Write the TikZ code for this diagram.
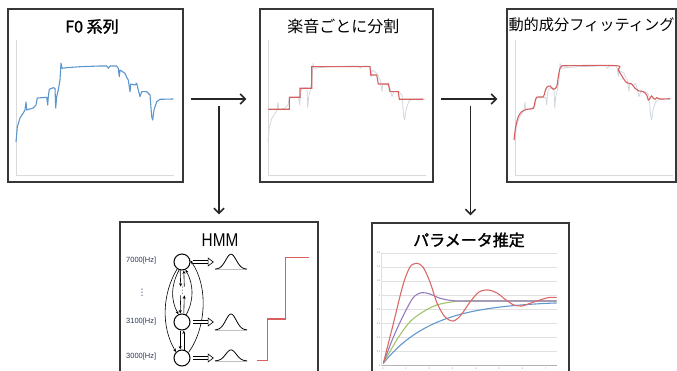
\documentclass[tikz,border=0pt]{standalone}
\usepackage{fontspec}
\usepackage{graphicx}
\usepackage{tikz}
\usetikzlibrary{arrows.meta,calc}
\setmainfont{Liberation Sans}
\newfontfamily\jpfont[AutoFakeBold=1.6]{Noto Sans CJK JP}
\newfontfamily\symfont{DejaVu Sans}
\definecolor{boxgray}{RGB}{55,55,55}
\definecolor{fzblue}{RGB}{91,150,205}
\definecolor{fzgray}{RGB}{208,215,224}
\definecolor{fitred}{RGB}{214,96,96}
\definecolor{axgray}{RGB}{218,218,218}
\definecolor{hzblue}{RGB}{45,55,85}
\definecolor{cred}{RGB}{218,105,105}
\definecolor{cpurple}{RGB}{150,122,190}
\definecolor{cgreen}{RGB}{162,196,104}
\definecolor{cblue}{RGB}{96,152,206}

\begin{document}
\begin{tikzpicture}[x=1pt, y=-1pt,
    panel/.style={draw=boxgray, line width=1.4pt, inner sep=0pt},
    title/.style={font=\jpfont\fontsize{16}{18}\selectfont, inner sep=0pt},
    titleb/.style={font=\jpfont\bfseries\fontsize{16}{18}\selectfont, inner sep=0pt},
    arr/.style={-{Straight Barb[length=5pt,width=10pt]}, line width=1.5pt, black!85},
    state/.style={circle, draw, line width=1pt, minimum size=16pt, inner sep=0pt},
    trans/.style={-{Stealth[length=3.5pt,width=3pt]}, line width=0.6pt},
    hollow/.style={double, double distance=2.2pt, line width=0.6pt,
                   -{Triangle[open,length=6pt,width=9pt]}, shorten <=2.5pt, shorten >=1pt},
    hz/.style={font=\fontsize{7.5}{8}\selectfont, text=hzblue, inner sep=0pt},
    dots/.style={font=\symfont\fontsize{9}{9}\selectfont, inner sep=0.5pt},
    gauss/.style={minimum width=32pt, minimum height=#1, inner sep=0pt},
    axis/.style={axgray, line width=0.8pt},
    grid/.style={black!12, line width=0.5pt},
    tick/.style={font=\fontsize{2.5}{3}\selectfont, text=black!45, inner sep=0.5pt}
]
\useasboundingbox (0,0) rectangle (677,371);
\clip (0,0) rectangle (677,371);

% panels
\node[panel, minimum width=175pt, minimum height=173pt] (f0) at (95.5,95.5) {};
\node[panel, minimum width=173pt, minimum height=173pt] (seg) at (346.5,95.5) {};
\node[panel, minimum width=169pt, minimum height=173pt] (fit) at (591.5,95.5) {};
\node[panel, minimum width=198pt, minimum height=178pt] (hmm) at (219,311) {};
\node[panel, minimum width=197pt, minimum height=177pt] (prm) at (470.5,311.5) {};

\node[titleb] (tf0) at (92,26.5) {F0 系列};
\node[title] (tseg) at (343.3,26.7) {楽音ごとに分割};
\node[title, font=\jpfont\fontsize{15.2}{17}\selectfont] (tfit) at (591.5,25) {動的成分フィッティング};
\node[font=\fontsize{18.5}{20}\selectfont, inner sep=0pt] (thmm) at (220,240) {\scalebox{0.83}[1]{HMM}};
\node[titleb] (tprm) at (469,240) {パラメータ推定};

% flow
\coordinate (j1) at (219,106);
\coordinate (j2) at (470.5,106);
\draw[arr, shorten <=7pt, shorten >=13pt] ([yshift=-3.5pt]f0.east) -- ([yshift=-3.5pt]seg.west);
\draw[arr, shorten <=7pt, shorten >=9pt] ([yshift=-3.5pt]seg.east) -- ([yshift=-3.5pt]fit.west);
\draw[arr, shorten >=7pt] (j1) -- (j1 |- hmm.north);
\draw[arr, shorten >=7pt] (j2) -- (j2 |- prm.north);

% F0 contour in the three upper panels
\foreach \dx/\c/\w in {0/fzblue/1.1pt, 252/fzgray/0.8pt, 499/fzgray/0.8pt}{
  \draw[axis, shift={(\dx,0)}] (16,40) -- (16,175) -- (174,175);
  \draw[\c, line width=\w, line join=round, shift={(\dx,0)}]
    (16,142) -- (17.3,127) -- (20,118) -- (23.3,113) -- (25,110) -- (26,102) -- (26.7,110)
    -- (33.3,108) -- (36,105) -- (37.3,98) -- (41.7,97.7) -- (46.7,97.3) -- (47.7,105)
    -- (48.3,96.7) -- (49.3,89.3) -- (53.3,87.7) -- (55,88.3) -- (55.7,108) -- (56.7,96.7)
    -- (58.3,90) -- (60,80) -- (61,63.3) -- (62,68.3) -- (66.7,67.7) -- (80,66.7)
    -- (100,66) -- (106.7,66) -- (108.3,68.3) -- (110,66) -- (116.7,66) -- (118.3,68.3)
    -- (119.3,76.7) -- (120,70) -- (125,73.3) -- (126.7,77.3) -- (128.3,80) -- (130,91.7)
    -- (130.7,84) -- (135,85) -- (136.7,83.3) -- (138.3,90) -- (140,96.7) -- (141.7,91.7)
    -- (146.7,91.7) -- (150,95) -- (151.7,116.7) -- (152.7,120) -- (154,110)
    -- (156.7,101.7) -- (160,99.3) -- (173.3,99);
}
\draw[fitred, line width=1.1pt, shift={(252,0)}]
  (16.3,109.3) -- (37.3,109.3) -- (37.3,97.3) -- (48,97.3) -- (48,88.3) -- (59.7,88.3)
  -- (59.7,66.7) -- (118,66.7) -- (118.7,75) -- (124.7,75) -- (126.3,84) -- (136.3,84)
  -- (138,91.7) -- (146.3,91.7) -- (147.3,99.3) -- (171.3,99.3);
\draw[fitred, line width=1.1pt, shift={(499,0)}] plot[smooth, tension=0.5] coordinates {
  (15,140) (16.7,126.7) (19.3,116.7) (22.7,111.7) (27.7,109.3) (34.3,108.3) (36,101.7)
  (37.7,97.3) (44.3,96.7) (46,91.7) (47.7,87.3) (51,86) (54.3,89.3) (57.7,86.7)
  (59.3,76.7) (61,68.3) (62.7,66) (69.3,65.7) (117.7,65.7) (119.3,70) (124.3,78.3)
  (127.7,82.7) (132.7,84) (136,88.3) (139.3,90.7) (144.3,91.7) (147.7,95) (149.3,100)
  (151,98.3) (152.7,96) (154.3,98.3) (156,99.3) (157.7,97.7) (161,99) (171,98.7)};

% HMM
\node[state] (s1) at (182,262) {};
\node[state] (s2) at (182,322) {};
\node[state] (s3) at (182,358) {};
\node[dots, text=black!55] (vd) at (182.5,291) {⋮};
\node[hz, anchor=west] (l1) at (126,261) {7000[Hz]};
\node[dots, text=hzblue] (ld) at (142,293) {⋮};
\node[hz, anchor=west] (l2) at (126,322) {3100[Hz]};
\node[hz, anchor=west] (l3) at (126,357) {3000[Hz]};

\draw[trans] (s1.235) .. controls +(-15,25) and +(-15,-25) .. (s3.135);
\draw[trans] (s3.40) .. controls +(18,-25) and +(18,25) .. (s1.10);
\draw[trans] (s1.250) .. controls +(-8,15) and +(-8,-15) .. (s2.115);
\draw[trans] (s2.60) .. controls +(8,-15) and +(8,15) .. (s1.295);
\draw[trans] ([xshift=-1.8pt]s1.south) -- ([xshift=-1.8pt]vd.north);
\draw[trans] ([xshift=1.8pt]vd.north) -- ([xshift=1.8pt]s1.south);
\draw[trans] ([xshift=-1.8pt]vd.south) -- ([xshift=-1.8pt]s2.north);
\draw[trans] ([xshift=1.8pt]s2.north) -- ([xshift=1.8pt]vd.south);
\draw[trans] ([xshift=-1.8pt]s2.south) -- ([xshift=-1.8pt]s3.north);
\draw[trans] ([xshift=1.8pt]s3.north) -- ([xshift=1.8pt]s2.south);

\node[gauss=15pt] (g1) at (231,261.7) {};
\node[gauss=16pt] (g2) at (231,322) {};
\node[gauss=11pt] (g3) at (231,355.4) {};
\foreach \s/\g/\h in {s1/g1/15, s2/g2/16, s3/g3/11}{
  \draw[hollow] (\s.east) -- (\g.west |- \s.east);
  \draw[gray!50, line width=0.8pt] (\g.south west) -- (\g.south east);
  \draw[line width=0.8pt, shift={(\g)}]
    plot[domain=-16:16, samples=41, smooth] (\x,{\h/2-\h*exp(-((\x)^2)/55)});
}
\draw[fitred, line width=1.2pt] (256.7,360.7) -- (267.3,360.7) -- (267.3,319)
  -- (285.7,319) -- (285.7,257.3) -- (309.3,257.3);

% step responses
\foreach \k/\v in {0/0,1/0.2,2/0.4,3/0.6,4/0.8,5/1,6/1.2,7/1.4,8/1.6}{
  \draw[grid] (381.7,{365.7-14.1*\k}) -- (556.7,{365.7-14.1*\k});
  \node[tick, anchor=east] (yt\k) at (381,{365.7-14.1*\k}) {\v};
}
\draw[grid] (381.7,252.7) -- (381.7,365.7);
\draw[black!30, line width=0.6pt] (381.7,365.7) -- (556.7,365.7);
\foreach \i in {0,...,7}
  \node[tick] (xt\i) at ({382.7+23.3*\i},368.5) {\i};

\draw[cblue, line width=1.1pt] plot[domain=383.3:556.7, samples=60]
  (\x,{363.3-62.3*(1-exp(-(\x-383.3)/50))});
\draw[cgreen, line width=1.1pt] plot[smooth] coordinates {
  (383.3,363.3) (396.7,340) (410,321.7) (423.3,311.7) (436.7,305) (453.3,301.7)
  (470,301) (556.7,301)};
\draw[cpurple, line width=1.1pt] plot[smooth] coordinates {
  (383.3,363.3) (393,338) (403.3,315.5) (413.3,297.5) (421.7,292.7) (430,294)
  (440,298.3) (453.3,300.7) (470,301) (556.7,301)};
\draw[cred, line width=1.1pt] plot[smooth] coordinates {
  (383.3,363.3) (393,325) (403,285) (410,267) (416.7,263.3) (423,267) (430,282)
  (437,303) (445,317) (453.3,321) (461,315) (470,302) (479,292) (488,290) (497,293)
  (506,300) (514,305) (522,306) (531,303) (540,300) (549,297.5) (556.7,297.5)};
\end{tikzpicture}
\end{document}
